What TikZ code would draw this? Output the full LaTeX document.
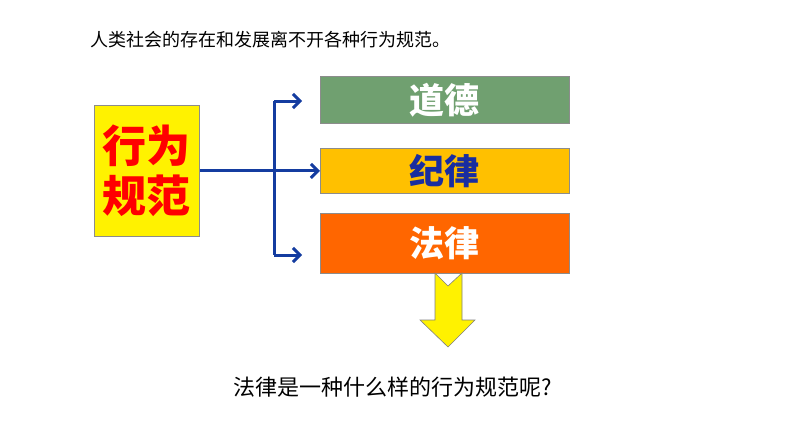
\documentclass[tikz,border=0pt]{standalone}
\usepackage{fontspec}
\usetikzlibrary{arrows.meta}
\newfontfamily\cjk{Noto Sans CJK SC}
\definecolor{gA}{RGB}{112,160,112}
\definecolor{oA}{RGB}{255,192,0}
\definecolor{rA}{RGB}{255,102,0}
\definecolor{bT}{RGB}{25,45,160}
\definecolor{bA}{RGB}{20,60,160}
\begin{document}
\begin{tikzpicture}[x=1pt,y=-1pt,
  bx/.style={draw=black!45,line width=0.8pt,anchor=north west,inner sep=0pt},
  lbl/.style={font=\cjk\bfseries\fontsize{35}{38}\selectfont},
  ln/.style={draw=bA,line width=3pt},
  arr/.style={ln,-{Straight Barb[length=7pt,width=14pt,line width=3pt]}}]
\useasboundingbox (0,0) rectangle (794,447);
\node[anchor=west,font=\cjk\fontsize{18}{20}\selectfont] (t) at (87,40) {人类社会的存在和发展离不开各种行为规范。};
\node[bx,fill=yellow,minimum width=105pt,minimum height=131pt] (x) at (94,105) {};
\node[text=red,align=center,font=\cjk\bfseries\fontsize{44}{50}\selectfont] at (x.center) {行为\\规范};
\node[bx,fill=gA,minimum width=249pt,minimum height=47pt] (a) at (320,76) {};
\node[text=white,lbl] at (a.center) {道德};
\node[bx,fill=oA,minimum width=249pt,minimum height=45pt] (b) at (320,148) {};
\node[text=bT,lbl] at (b.center) {纪律};
\node[bx,fill=rA,minimum width=249pt,minimum height=60pt] (c) at (320,213) {};
\node[text=white,lbl] at (c.center) {法律};
\coordinate (j1) at (274,101);
\coordinate (j2) at (274,255);
\coordinate (e1) at (302,101);
\coordinate (e2) at (302,255);
\draw[arr] (x.east) -- (b.west);
\draw[ln] (j1) -- (j2);
\draw[arr] (j1) -- (e1);
\draw[arr] (j2) -- (e2);
\draw[draw=black!50,fill=yellow,line width=0.6pt] (435,273) -- (448,286) -- (462,273) -- (462,320) -- (475,320) -- (448,347) -- (420,320) -- (435,320) -- cycle;
\node[font=\cjk\fontsize{22}{24}\selectfont] (q) at (393,387) {法律是一种什么样的行为规范呢?};
\end{tikzpicture}
\end{document}
